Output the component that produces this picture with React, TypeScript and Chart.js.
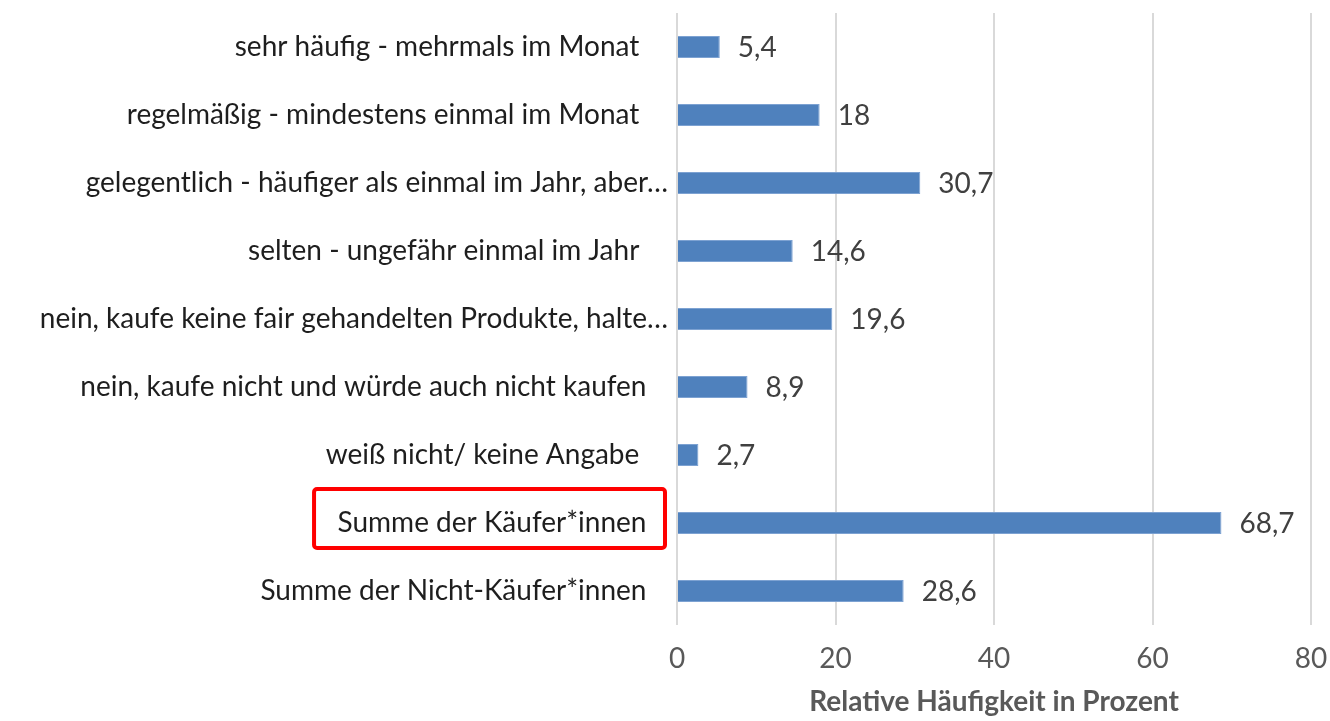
import React, { useEffect, useRef } from 'react';
import { Chart, registerables } from 'chart.js';

Chart.register(...registerables);

const categories = [
  'sehr häufig - mehrmals im Monat    ',
  'regelmäßig - mindestens einmal im Monat    ',
  'gelegentlich - häufiger als einmal im Jahr, aber…',
  'selten - ungefähr einmal im Jahr    ',
  'nein, kaufe keine fair gehandelten Produkte, halte…',
  'nein, kaufe nicht und würde auch nicht kaufen   ',
  'weiß nicht/ keine Angabe    ',
  'Summe der Käufer*innen   ',
  'Summe der Nicht-Käufer*innen   ',
];
const values = [5.4, 18, 30.7, 14.6, 19.6, 8.9, 2.7, 68.7, 28.6];
const xTickValues = [0, 20, 40, 60, 80];
const highlightedCategory = 'Summe der Käufer*innen';
const axisTitle = 'Relative Häufigkeit in Prozent';

const FONT = 'Lato, "Open Sans", sans-serif';
const FONT_SIZE = 28;

const fmt = (v: number) => String(v).replace('.', ',');

const valueLabelPlugin = {
  id: 'valueLabels',
  afterDatasetsDraw(chart: any) {
    const ctx = chart.ctx;
    const meta = chart.getDatasetMeta(0);
    ctx.save();
    ctx.font = `${FONT_SIZE}px ${FONT}`;
    ctx.fillStyle = '#404040';
    ctx.textAlign = 'left';
    ctx.textBaseline = 'middle';
    meta.data.forEach((bar: any, i: number) => {
      ctx.fillText(fmt(values[i]), bar.x + 18, bar.y + 1);
    });
    ctx.restore();
  },
};

const highlightPlugin = {
  id: 'highlightBox',
  afterDraw(chart: any) {
    const ctx = chart.ctx;
    const yScale = chart.scales.y;
    const idx = categories.findIndex((c) => c.trim() === highlightedCategory);
    if (idx < 0) return;
    const yc = yScale.getPixelForValue(idx);
    ctx.save();
    ctx.font = `${FONT_SIZE}px ${FONT}`;
    const w = ctx.measureText(highlightedCategory).width;
    const right = yScale.right - 12;
    const left = right - 20 - w - 22;
    const top = yc - 34;
    const bottom = yc + 25;
    ctx.strokeStyle = '#FF0000';
    ctx.lineWidth = 4;
    ctx.beginPath();
    if ((ctx as any).roundRect) {
      (ctx as any).roundRect(left, top, right - left, bottom - top, 3);
    } else {
      ctx.rect(left, top, right - left, bottom - top);
    }
    ctx.stroke();
    ctx.restore();
  },
};

export default function App() {
  const canvasRef = useRef<HTMLCanvasElement | null>(null);

  useEffect(() => {
    if (!canvasRef.current) return;
    const chart = new Chart(canvasRef.current, {
      type: 'bar',
      data: {
        labels: categories,
        datasets: [
          {
            data: values,
            backgroundColor: '#4F81BD',
            borderColor: '#7DA2D2',
            borderWidth: 1,
            barPercentage: 0.32,
            categoryPercentage: 1,
          },
        ],
      },
      options: {
        indexAxis: 'y',
        animation: false,
        responsive: false,
        maintainAspectRatio: false,
        layout: { padding: { left: 0, right: 19, top: 13, bottom: 0 } },
        plugins: {
          legend: { display: false },
          tooltip: { enabled: false },
        },
        scales: {
          x: {
            min: 0,
            max: 80,
            afterFit: (scale: any) => {
              scale.height = 96;
              scale.paddingLeft = 0;
              scale.paddingRight = 0;
            },
            afterBuildTicks: (scale: any) => {
              scale.ticks = xTickValues.map((v) => ({ value: v }));
            },
            grid: {
              color: '#D9D9D9',
              lineWidth: 2,
              drawTicks: false,
            },
            border: { display: false },
            ticks: {
              padding: 17,
              color: '#595959',
              font: { family: FONT, size: FONT_SIZE },
            },
            title: {
              display: true,
              text: axisTitle,
              color: '#595959',
              font: { family: FONT, size: FONT_SIZE, weight: 'bold' },
              padding: { top: 0, bottom: 2 },
            },
          },
          y: {
            afterFit: (scale: any) => {
              scale.width = 677;
              scale.paddingTop = 0;
              scale.paddingBottom = 0;
            },
            grid: { display: false, drawTicks: false },
            border: { display: false },
            ticks: {
              padding: 9,
              color: '#1E1E1E',
              font: { family: FONT, size: FONT_SIZE },
              autoSkip: false,
            },
          },
        },
      },
      plugins: [valueLabelPlugin, highlightPlugin],
    } as any);
    return () => chart.destroy();
  }, []);

  return (
    <div style={{ position: 'fixed', left: 0, top: 0, width: 1330, height: 721, background: '#fff' }}>
      <canvas ref={canvasRef} width={1330} height={721} style={{ display: 'block', width: 1330, height: 721 }} />
    </div>
  );
}
